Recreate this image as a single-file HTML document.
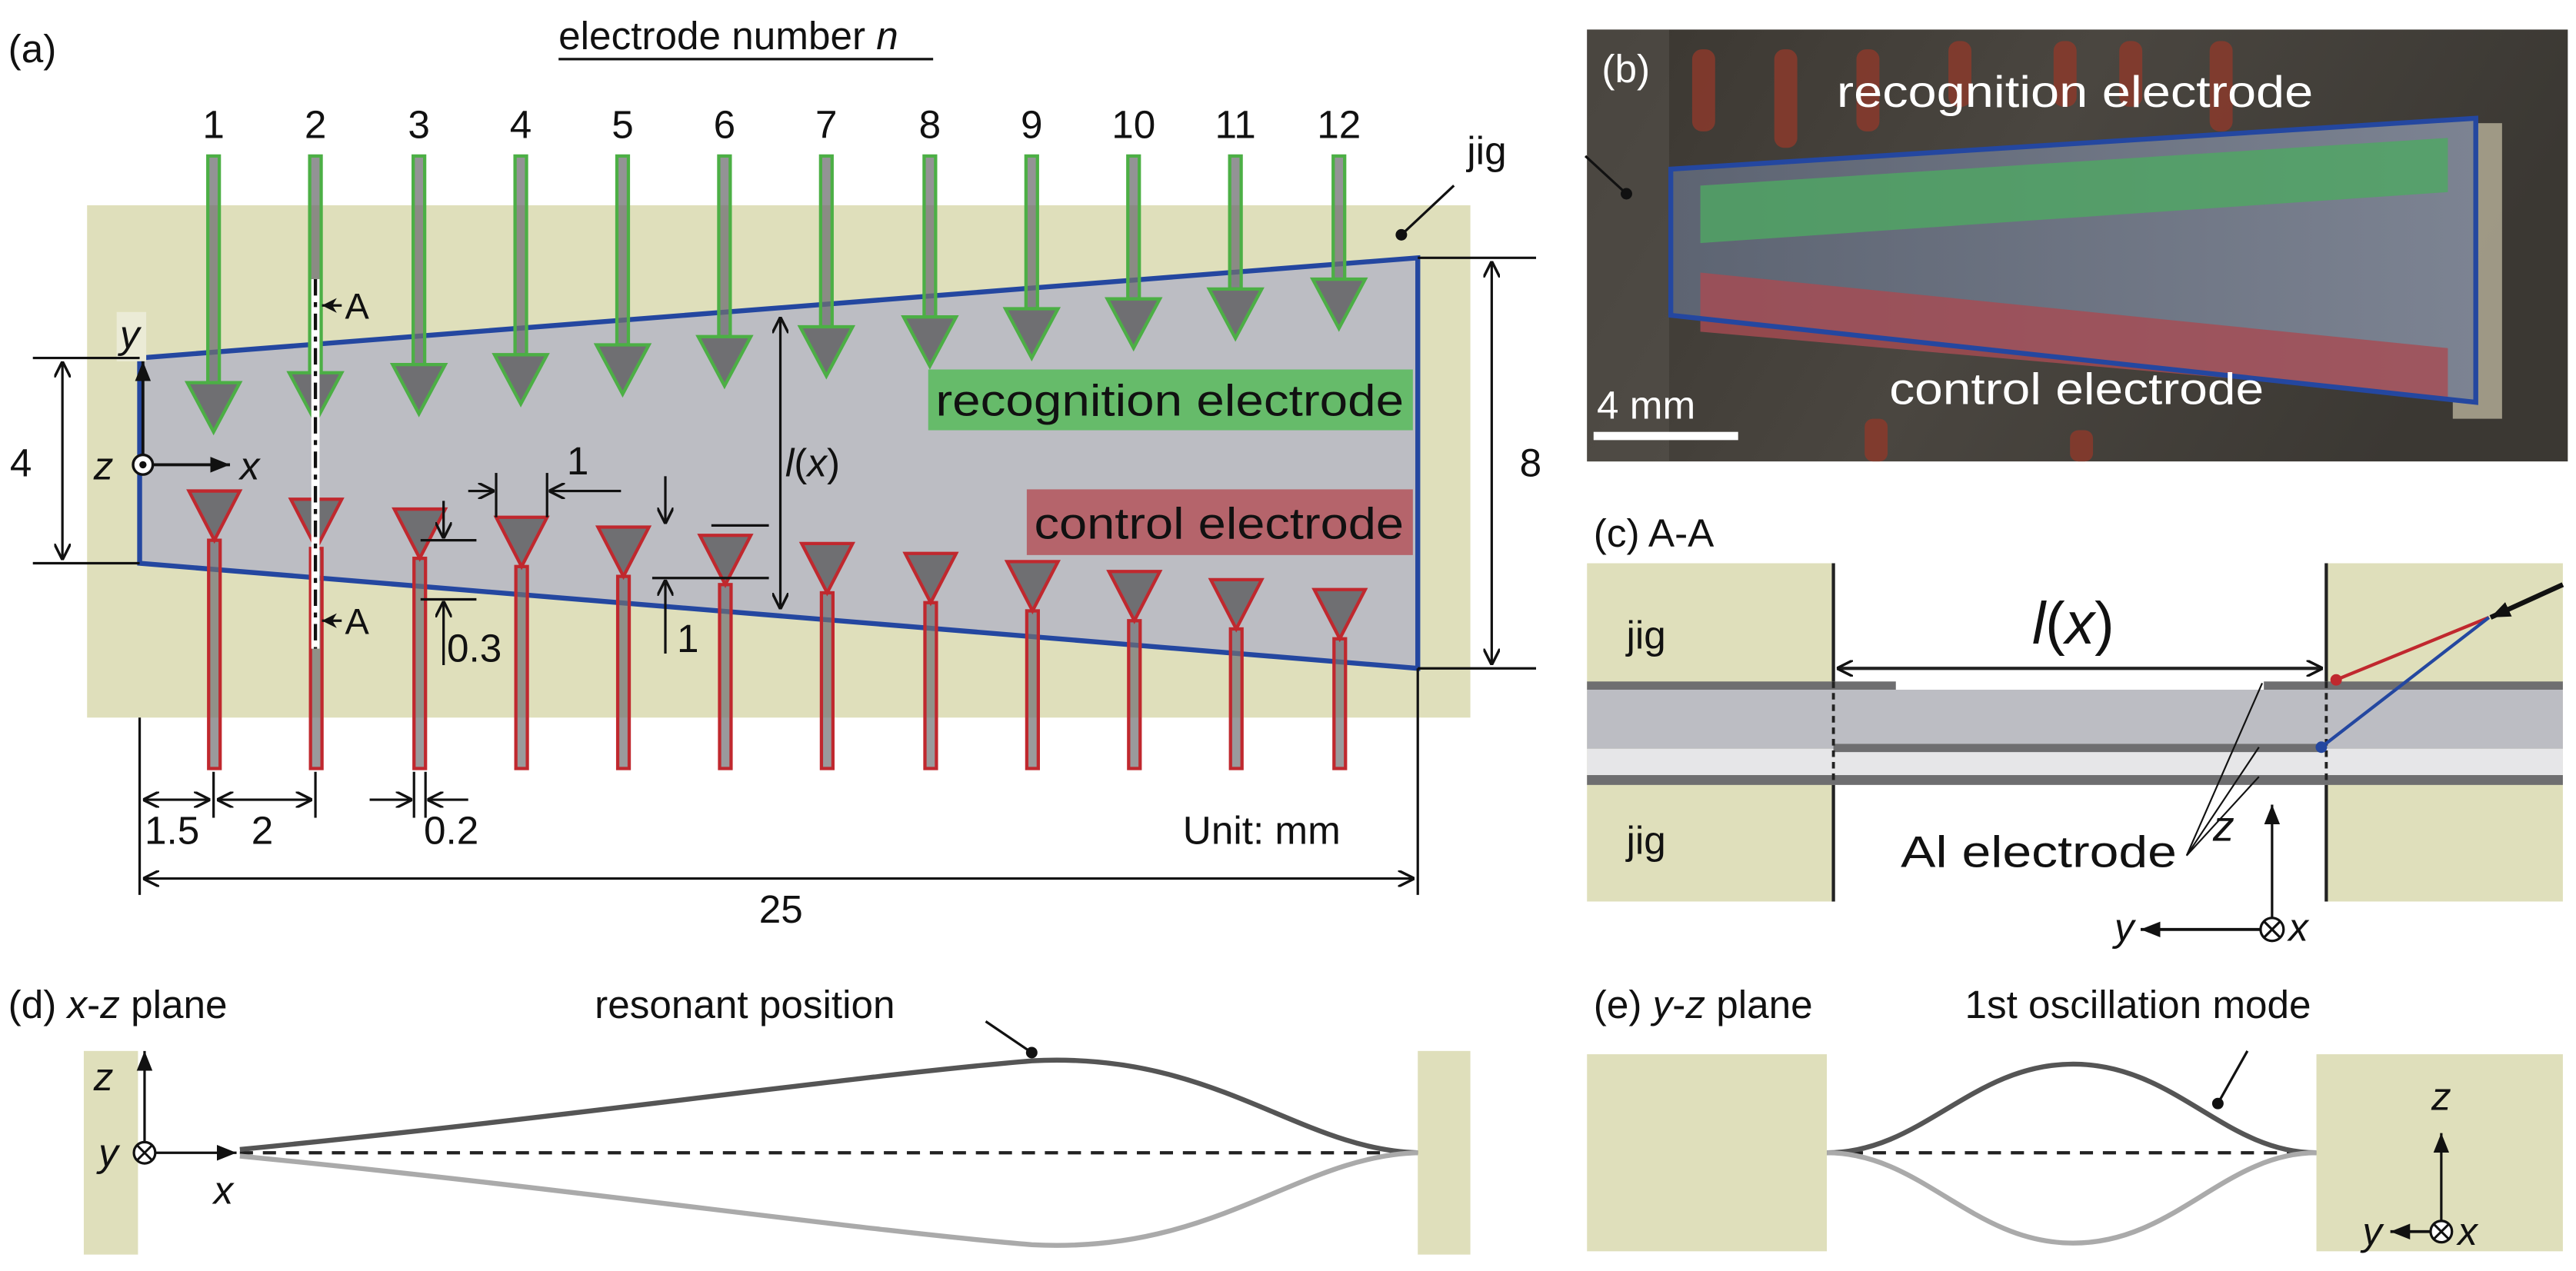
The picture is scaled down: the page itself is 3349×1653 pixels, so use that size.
<!DOCTYPE html>
<html><head><meta charset="utf-8"><style>
html,body{margin:0;padding:0;background:#fff;}
svg{display:block;}
text{font-family:"Liberation Sans",Arial,sans-serif;fill:#111;}
</style></head><body>
<svg width="3349" height="1653" viewBox="0 0 1568 774" preserveAspectRatio="none" xmlns="http://www.w3.org/2000/svg">
<defs>
<marker id="ah" viewBox="0 0 10 10" refX="10" refY="5" markerWidth="9" markerHeight="9" orient="auto-start-reverse" markerUnits="userSpaceOnUse"><path d="M0,0 L10,5 L0,10 L3,5 z" fill="#111"/></marker>
<marker id="ao" viewBox="0 0 10 10" refX="10" refY="5" markerWidth="10" markerHeight="10" orient="auto-start-reverse" markerUnits="userSpaceOnUse"><path d="M0,0 L10,5 L0,10" fill="none" stroke="#111" stroke-width="1.6"/></marker>
<marker id="af" viewBox="0 0 10 10" refX="10" refY="5" markerWidth="12" markerHeight="12" orient="auto" markerUnits="userSpaceOnUse"><path d="M0,1 L10,5 L0,9 z" fill="#111"/></marker>
<linearGradient id="pg" x1="0" y1="0" x2="1" y2="0.25">
<stop offset="0" stop-color="#3a3630"/><stop offset="0.5" stop-color="#4a4640"/><stop offset="1" stop-color="#3b3833"/></linearGradient>
<linearGradient id="bg2" x1="0" y1="0" x2="1" y2="0"><stop offset="0" stop-color="#5d6472"/><stop offset="1" stop-color="#7c8392"/></linearGradient>
</defs>

<!-- ===== Panel (a) ===== -->
<text x="5" y="38" font-size="24">(a)</text>
<text x="340" y="30" font-size="24">electrode number <tspan font-style="italic">n</tspan></text>
<line x1="340" y1="36" x2="568" y2="36" stroke="#111" stroke-width="1.5"/>
<rect x="53" y="125" width="842" height="312" fill="#dfdfbb"/>
<polygon points="85,218 863,157 863,407 85,343" fill="#bcbdc3" stroke="#2447a0" stroke-width="3"/>

<g font-size="24" text-anchor="middle">
<text x="130" y="84">1</text><text x="192" y="84">2</text><text x="255" y="84">3</text><text x="317" y="84">4</text>
<text x="379" y="84">5</text><text x="441" y="84">6</text><text x="503" y="84">7</text><text x="566" y="84">8</text>
<text x="628" y="84">9</text><text x="690" y="84">10</text><text x="752" y="84">11</text><text x="815" y="84">12</text>
</g>

<g stroke="#4caf45" stroke-width="2">
<g fill="#6f6f72" fill-opacity="0.75">
<rect x="126.5" y="95" width="7" height="138"/><rect x="188.5" y="95" width="7" height="132"/>
<rect x="251.5" y="95" width="7" height="127"/><rect x="313.5" y="95" width="7" height="121"/>
<rect x="375.5" y="95" width="7" height="115"/><rect x="437.5" y="95" width="7" height="110"/>
<rect x="499.5" y="95" width="7" height="104"/><rect x="562.5" y="95" width="7" height="98"/>
<rect x="624.5" y="95" width="7" height="93"/><rect x="686.5" y="95" width="7" height="87"/>
<rect x="748.5" y="95" width="7" height="81"/><rect x="811.5" y="95" width="7" height="75"/>
</g>
<g fill="#6f6f72">
<polygon points="114,233 146,233 130,263"/><polygon points="176,227 208,227 192,257"/>
<polygon points="239,222 271,222 255,252"/><polygon points="301,216 333,216 317,246"/>
<polygon points="363,210 395,210 379,240"/><polygon points="425,205 457,205 441,235"/>
<polygon points="487,199 519,199 503,229"/><polygon points="550,193 582,193 566,223"/>
<polygon points="612,188 644,188 628,218"/><polygon points="674,182 706,182 690,212"/>
<polygon points="736,176 768,176 752,206"/><polygon points="799,170 831,170 815,200"/>
</g>
</g>

<g stroke="#c0282e" stroke-width="2">
<g fill="#6f6f72" fill-opacity="0.7">
<rect x="127" y="329" width="7" height="139"/><rect x="189" y="334" width="7" height="134"/>
<rect x="252" y="340" width="7" height="128"/><rect x="314" y="345" width="7" height="123"/>
<rect x="376" y="351" width="7" height="117"/><rect x="438" y="356" width="7" height="112"/>
<rect x="500" y="361" width="7" height="107"/><rect x="563" y="367" width="7" height="101"/>
<rect x="625" y="372" width="7" height="96"/><rect x="687" y="378" width="7" height="90"/>
<rect x="749" y="383" width="7" height="85"/><rect x="812" y="389" width="7" height="79"/>
</g>
<g fill="#6f6f72">
<polygon points="115,299 146,299 130.5,329"/><polygon points="177,304 208,304 192.5,334"/>
<polygon points="240,310 271,310 255.5,340"/><polygon points="302,315 333,315 317.5,345"/>
<polygon points="364,321 395,321 379.5,351"/><polygon points="426,326 457,326 441.5,356"/>
<polygon points="488,331 519,331 503.5,361"/><polygon points="551,337 582,337 566.5,367"/>
<polygon points="613,342 644,342 628.5,372"/><polygon points="675,348 706,348 690.5,378"/>
<polygon points="737,353 768,353 752.5,383"/><polygon points="800,359 831,359 815.5,389"/>
</g>
</g>

<rect x="565" y="225" width="295" height="37" fill="#66bb6a"/>
<text x="712" y="253" font-size="27" text-anchor="middle" textLength="285" lengthAdjust="spacingAndGlyphs">recognition electrode</text>
<rect x="625" y="298" width="235" height="40" fill="#b5646b"/>
<text x="742" y="328" font-size="27" text-anchor="middle" textLength="225" lengthAdjust="spacingAndGlyphs">control electrode</text>

<line x1="192" y1="170" x2="192" y2="395" stroke="#fff" stroke-width="5"/>
<line x1="192" y1="170" x2="192" y2="395" stroke="#111" stroke-width="2" stroke-dasharray="10,4,3,4"/>
<line x1="208" y1="186" x2="196" y2="186" stroke="#111" stroke-width="1.5" marker-end="url(#ah)"/>
<text x="210" y="194" font-size="22">A</text>
<line x1="208" y1="378" x2="196" y2="378" stroke="#111" stroke-width="1.5" marker-end="url(#ah)"/>
<text x="210" y="386" font-size="22">A</text>

<rect x="71" y="190" width="18" height="30" fill="#ebebd6"/>
<text x="73" y="212" font-size="24" font-style="italic">y</text>
<line x1="87" y1="283" x2="87" y2="220" stroke="#111" stroke-width="1.8" marker-end="url(#af)"/>
<line x1="87" y1="283" x2="140" y2="283" stroke="#111" stroke-width="1.8" marker-end="url(#af)"/>
<circle cx="87" cy="283" r="6" fill="#fff" stroke="#111" stroke-width="1.6"/>
<circle cx="87" cy="283" r="2.2" fill="#111"/>
<text x="57" y="292" font-size="24" font-style="italic">z</text>
<text x="146" y="292" font-size="24" font-style="italic">x</text>

<line x1="20" y1="218" x2="85" y2="218" stroke="#111" stroke-width="1.5"/>
<line x1="20" y1="343" x2="85" y2="343" stroke="#111" stroke-width="1.5"/>
<line x1="38" y1="220" x2="38" y2="341" stroke="#111" stroke-width="1.5" marker-start="url(#ao)" marker-end="url(#ao)"/>
<text x="6" y="290" font-size="24">4</text>
<line x1="863" y1="157" x2="935" y2="157" stroke="#111" stroke-width="1.5"/>
<line x1="863" y1="407" x2="935" y2="407" stroke="#111" stroke-width="1.5"/>
<line x1="908" y1="159" x2="908" y2="405" stroke="#111" stroke-width="1.5" marker-start="url(#ao)" marker-end="url(#ao)"/>
<text x="925" y="290" font-size="24">8</text>
<line x1="475" y1="193" x2="475" y2="371" stroke="#111" stroke-width="1.5" marker-start="url(#ao)" marker-end="url(#ao)"/>
<text x="478" y="290" font-size="24"><tspan font-style="italic">l</tspan>(<tspan font-style="italic">x</tspan>)</text>

<line x1="302" y1="288" x2="302" y2="315" stroke="#111" stroke-width="1.5"/>
<line x1="333" y1="288" x2="333" y2="315" stroke="#111" stroke-width="1.5"/>
<line x1="285" y1="299" x2="301" y2="299" stroke="#111" stroke-width="1.5" marker-end="url(#ao)"/>
<line x1="378" y1="299" x2="334" y2="299" stroke="#111" stroke-width="1.5" marker-end="url(#ao)"/>
<text x="345" y="289" font-size="24">1</text>
<line x1="256" y1="329" x2="290" y2="329" stroke="#111" stroke-width="1.5"/>
<line x1="256" y1="365" x2="290" y2="365" stroke="#111" stroke-width="1.5"/>
<line x1="270" y1="305" x2="270" y2="328" stroke="#111" stroke-width="1.5" marker-end="url(#ao)"/>
<line x1="270" y1="405" x2="270" y2="366" stroke="#111" stroke-width="1.5" marker-end="url(#ao)"/>
<text x="272" y="403" font-size="24">0.3</text>
<line x1="433" y1="320" x2="468" y2="320" stroke="#111" stroke-width="1.5"/>
<line x1="397" y1="352" x2="468" y2="352" stroke="#111" stroke-width="1.5"/>
<line x1="405" y1="290" x2="405" y2="319" stroke="#111" stroke-width="1.5" marker-end="url(#ao)"/>
<line x1="405" y1="398" x2="405" y2="353" stroke="#111" stroke-width="1.5" marker-end="url(#ao)"/>
<text x="412" y="397" font-size="24">1</text>

<line x1="85" y1="437" x2="85" y2="545" stroke="#111" stroke-width="1.5"/>
<line x1="863" y1="407" x2="863" y2="545" stroke="#111" stroke-width="1.5"/>
<line x1="130" y1="470" x2="130" y2="498" stroke="#111" stroke-width="1.5"/>
<line x1="192" y1="470" x2="192" y2="498" stroke="#111" stroke-width="1.5"/>
<line x1="252" y1="470" x2="252" y2="498" stroke="#111" stroke-width="1.5"/>
<line x1="259" y1="470" x2="259" y2="498" stroke="#111" stroke-width="1.5"/>
<line x1="87" y1="487" x2="128" y2="487" stroke="#111" stroke-width="1.5" marker-start="url(#ao)" marker-end="url(#ao)"/>
<line x1="132" y1="487" x2="190" y2="487" stroke="#111" stroke-width="1.5" marker-start="url(#ao)" marker-end="url(#ao)"/>
<line x1="225" y1="487" x2="251" y2="487" stroke="#111" stroke-width="1.5" marker-end="url(#ao)"/>
<line x1="285" y1="487" x2="260" y2="487" stroke="#111" stroke-width="1.5" marker-end="url(#ao)"/>
<text x="88" y="514" font-size="24">1.5</text>
<text x="153" y="514" font-size="24">2</text>
<text x="258" y="514" font-size="24">0.2</text>
<text x="720" y="514" font-size="24">Unit: mm</text>
<line x1="87" y1="535" x2="861" y2="535" stroke="#111" stroke-width="1.5" marker-start="url(#ao)" marker-end="url(#ao)"/>
<text x="462" y="562" font-size="24">25</text>
<line x1="853" y1="143" x2="885" y2="113" stroke="#111" stroke-width="1.5"/>
<circle cx="853" cy="143" r="3.5" fill="#111"/>
<text x="893" y="100" font-size="24">jig</text>

<!-- ===== Panel (b) ===== -->
<rect x="966" y="18" width="597" height="263" fill="url(#pg)"/>
<rect x="966" y="18" width="50" height="263" fill="#5a5650" opacity="0.5"/>
<g fill="#8a3a2c" opacity="0.85">
<rect x="1030" y="30" width="14" height="50" rx="6"/><rect x="1080" y="30" width="14" height="60" rx="6"/>
<rect x="1130" y="30" width="14" height="50" rx="6"/><rect x="1186" y="25" width="14" height="40" rx="6"/>
<rect x="1250" y="25" width="14" height="40" rx="6"/><rect x="1290" y="25" width="14" height="40" rx="6"/>
<rect x="1345" y="25" width="14" height="55" rx="6"/>
<rect x="1135" y="255" width="14" height="26" rx="5"/><rect x="1260" y="262" width="14" height="19" rx="5"/>
</g>
<rect x="1493" y="75" width="30" height="180" fill="#c9c2a8" opacity="0.7"/>
<polygon points="1017,103 1507,72 1507,245 1017,192" fill="url(#bg2)"/>
<polygon points="1035,113 1490,84 1490,117 1035,148" fill="#4fa863" opacity="0.8"/>
<polygon points="1035,166 1490,212 1490,242 1035,202" fill="#a84b52" opacity="0.8"/>
<polygon points="1017,103 1507,72 1507,245 1017,192" fill="none" stroke="#2447a0" stroke-width="3"/>
<text x="975" y="50" font-size="24" style="fill:#fff">(b)</text>
<text x="1118" y="65" font-size="27" style="fill:#fff" textLength="290" lengthAdjust="spacingAndGlyphs">recognition electrode</text>
<text x="1150" y="246" font-size="27" style="fill:#fff" textLength="228" lengthAdjust="spacingAndGlyphs">control electrode</text>
<text x="972" y="255" font-size="24" style="fill:#fff">4 mm</text>
<rect x="970" y="263" width="88" height="5" fill="#fff"/>
<line x1="990" y1="118" x2="965" y2="95" stroke="#111" stroke-width="1.5"/>
<circle cx="990" cy="118" r="3.5" fill="#111"/>

<!-- ===== Panel (c) ===== -->
<text x="970" y="333" font-size="24">(c) A-A</text>
<rect x="966" y="343" width="150" height="206" fill="#dfdfbb"/>
<rect x="1416" y="343" width="144" height="206" fill="#dfdfbb"/>
<rect x="966" y="420" width="594" height="36" fill="#bcbdc3"/>
<rect x="966" y="456" width="594" height="16" fill="#e6e6e8"/>
<rect x="966" y="415" width="188" height="5" fill="#6e6e70"/>
<rect x="1378" y="415" width="182" height="5" fill="#6e6e70"/>
<rect x="1116" y="453" width="300" height="5" fill="#6e6e70"/>
<rect x="966" y="472" width="594" height="6" fill="#6e6e70"/>
<line x1="1116" y1="343" x2="1116" y2="415" stroke="#222" stroke-width="2"/>
<line x1="1116" y1="478" x2="1116" y2="549" stroke="#222" stroke-width="2"/>
<line x1="1416" y1="343" x2="1416" y2="415" stroke="#222" stroke-width="2"/>
<line x1="1416" y1="478" x2="1416" y2="549" stroke="#222" stroke-width="2"/>
<line x1="1116" y1="415" x2="1116" y2="478" stroke="#222" stroke-width="1.8" stroke-dasharray="4,3"/>
<line x1="1416" y1="415" x2="1416" y2="478" stroke="#222" stroke-width="1.8" stroke-dasharray="4,3"/>
<text x="990" y="395" font-size="24">jig</text>
<text x="990" y="520" font-size="24">jig</text>
<line x1="1118" y1="407" x2="1414" y2="407" stroke="#222" stroke-width="2" marker-start="url(#ao)" marker-end="url(#ao)"/>
<text x="1237" y="392" font-size="36"><tspan font-style="italic">l</tspan>(<tspan font-style="italic">x</tspan>)</text>
<line x1="1422" y1="414" x2="1515" y2="376" stroke="#c0282e" stroke-width="2"/>
<circle cx="1422" cy="414" r="3.5" fill="#c0282e"/>
<line x1="1413" y1="455" x2="1515" y2="376" stroke="#2447a0" stroke-width="2"/>
<circle cx="1413" cy="455" r="3.5" fill="#2447a0"/>
<line x1="1560" y1="356" x2="1516" y2="376" stroke="#111" stroke-width="3" marker-end="url(#af)"/>
<line x1="1377" y1="416" x2="1331" y2="521" stroke="#111" stroke-width="1"/>
<line x1="1375" y1="455" x2="1331" y2="521" stroke="#111" stroke-width="1"/>
<line x1="1375" y1="473" x2="1331" y2="521" stroke="#111" stroke-width="1"/>
<text x="1157" y="528" font-size="27" textLength="168" lengthAdjust="spacingAndGlyphs">Al electrode</text>
<text x="1347" y="512" font-size="26" font-style="italic">z</text>
<line x1="1383" y1="573" x2="1383" y2="490" stroke="#111" stroke-width="1.5" marker-end="url(#af)"/>
<line x1="1377" y1="566" x2="1303" y2="566" stroke="#111" stroke-width="1.8" marker-end="url(#af)"/>
<circle cx="1383" cy="566" r="7" fill="#fff" stroke="#111" stroke-width="1.5"/>
<path d="M1378,561 L1388,571 M1388,561 L1378,571" stroke="#111" stroke-width="1.5"/>
<text x="1287" y="573" font-size="24" font-style="italic">y</text>
<text x="1393" y="573" font-size="24" font-style="italic">x</text>

<!-- ===== Panel (d) ===== -->
<text x="5" y="620" font-size="24">(d) <tspan font-style="italic">x</tspan>-<tspan font-style="italic">z</tspan> plane</text>
<text x="362" y="620" font-size="24">resonant position</text>
<line x1="628" y1="641" x2="600" y2="622" stroke="#111" stroke-width="1.5"/>
<circle cx="628" cy="641" r="3.5" fill="#111"/>
<rect x="51" y="640" width="33" height="124" fill="#dfdfbb"/>
<rect x="863" y="640" width="32" height="124" fill="#dfdfbb"/>
<text x="57" y="664" font-size="24" font-style="italic">z</text>
<line x1="88" y1="702" x2="88" y2="640" stroke="#111" stroke-width="1.5" marker-end="url(#af)"/>
<line x1="95" y1="702" x2="144" y2="702" stroke="#111" stroke-width="1.5" marker-end="url(#af)"/>
<circle cx="88" cy="702" r="6.5" fill="#fff" stroke="#111" stroke-width="1.5"/>
<path d="M83.5,697.5 L92.5,706.5 M92.5,697.5 L83.5,706.5" stroke="#111" stroke-width="1.4"/>
<text x="60" y="710" font-size="24" font-style="italic">y</text>
<text x="130" y="733" font-size="24" font-style="italic">x</text>
<line x1="146" y1="702" x2="863" y2="702" stroke="#222" stroke-width="2" stroke-dasharray="8,6"/>
<path d="M146,700 C350,680 520,655 628,646 C740,640 790,700 863,702" fill="none" stroke="#555" stroke-width="3"/>
<path d="M146,704 C350,724 520,749 628,758 C740,764 790,704 863,702" fill="none" stroke="#aaa" stroke-width="3"/>

<!-- ===== Panel (e) ===== -->
<text x="970" y="620" font-size="24">(e) <tspan font-style="italic">y</tspan>-<tspan font-style="italic">z</tspan> plane</text>
<text x="1196" y="620" font-size="24">1st oscillation mode</text>
<line x1="1350" y1="672" x2="1368" y2="640" stroke="#111" stroke-width="1.5"/>
<circle cx="1350" cy="672" r="3.5" fill="#111"/>
<rect x="966" y="642" width="146" height="120" fill="#dfdfbb"/>
<rect x="1410" y="642" width="150" height="120" fill="#dfdfbb"/>
<line x1="1112" y1="702" x2="1410" y2="702" stroke="#222" stroke-width="2" stroke-dasharray="8,6"/>
<path d="M1112,702 C1170,702 1200,648 1262,648 C1324,648 1354,702 1410,702" fill="none" stroke="#555" stroke-width="3"/>
<path d="M1112,702 C1170,702 1200,757 1262,757 C1324,757 1354,702 1410,702" fill="none" stroke="#aaa" stroke-width="3"/>
<text x="1480" y="676" font-size="24" font-style="italic">z</text>
<line x1="1486" y1="750" x2="1486" y2="690" stroke="#111" stroke-width="1.5" marker-end="url(#af)"/>
<line x1="1480" y1="750" x2="1455" y2="750" stroke="#111" stroke-width="1.8" marker-end="url(#af)"/>
<circle cx="1486" cy="750" r="6.5" fill="#fff" stroke="#111" stroke-width="1.5"/>
<path d="M1481.5,745.5 L1490.5,754.5 M1490.5,745.5 L1481.5,754.5" stroke="#111" stroke-width="1.4"/>
<text x="1438" y="758" font-size="24" font-style="italic">y</text>
<text x="1496" y="758" font-size="24" font-style="italic">x</text>
</svg>
</body></html>
